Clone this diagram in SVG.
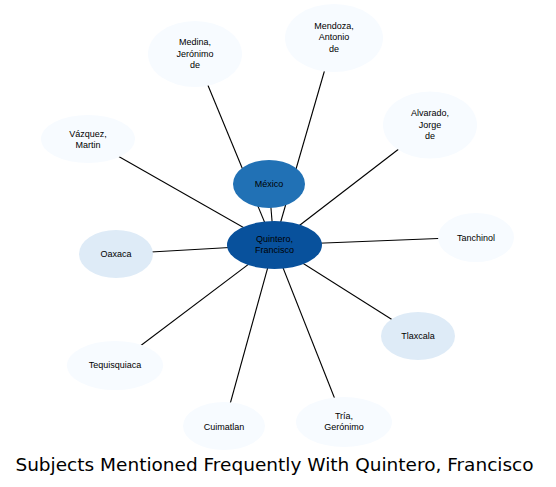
<svg xmlns="http://www.w3.org/2000/svg" width="556" height="487" viewBox="0 0 556 487">
<style>
.e line{stroke:#000;stroke-width:1.1}
.n text{font-family:"Liberation Sans",Arial,sans-serif;font-size:9px;text-anchor:middle;fill:#000}
.l1{fill:#f7fbff}
.l2{fill:#deebf7}
.d1{fill:#2171b5}
.d2{fill:#08519c}
.t{font-family:"DejaVu Sans",sans-serif;font-size:18.5px;text-anchor:middle;fill:#000}
</style>
<rect width="556" height="487" fill="#fff"/>
<g id="edges" class="e">
<line x1="274" y1="245" x2="269" y2="184"/>
<line x1="274" y1="245" x2="195" y2="54"/>
<line x1="274" y1="245" x2="334" y2="38"/>
<line x1="274" y1="245" x2="430" y2="125"/>
<line x1="274" y1="245" x2="476" y2="237"/>
<line x1="274" y1="245" x2="88" y2="139"/>
<line x1="274" y1="245" x2="116" y2="254"/>
<line x1="274" y1="245" x2="115" y2="365"/>
<line x1="274" y1="245" x2="224" y2="426"/>
<line x1="274" y1="245" x2="418" y2="336"/>
<line x1="274" y1="245" x2="344" y2="422"/>
</g>
<g id="medina" class="n"><ellipse class="l1" cx="195" cy="54" rx="47" ry="33"/><text x="195" y="45">Medina,</text><text x="195" y="56.5">Jerónimo</text><text x="195" y="68">de</text></g>
<g id="mendoza" class="n"><ellipse class="l1" cx="334" cy="38" rx="49" ry="34"/><text x="334" y="28.5">Mendoza,</text><text x="334" y="40">Antonio</text><text x="334" y="51.5">de</text></g>
<g id="alvarado" class="n"><ellipse class="l1" cx="430" cy="125" rx="47" ry="33.5"/><text x="430" y="115.5">Alvarado,</text><text x="430" y="127.5">Jorge</text><text x="430" y="139">de</text></g>
<g id="tanchinol" class="n"><ellipse class="l1" cx="476" cy="237.5" rx="38" ry="24.5"/><text x="476" y="240.5">Tanchinol</text></g>
<g id="vazquez" class="n"><ellipse class="l1" cx="88" cy="139" rx="47" ry="24"/><text x="88" y="137">Vázquez,</text><text x="88" y="148">Martin</text></g>
<g id="oaxaca" class="n"><ellipse class="l2" cx="116" cy="254" rx="37" ry="24"/><text x="116" y="256.5">Oaxaca</text></g>
<g id="tequisquiaca" class="n"><ellipse class="l1" cx="115" cy="365.5" rx="48" ry="24.5"/><text x="115" y="367.5">Tequisquiaca</text></g>
<g id="cuimatlan" class="n"><ellipse class="l1" cx="224" cy="426" rx="41" ry="24"/><text x="224" y="429.5">Cuimatlan</text></g>
<g id="tlaxcala" class="n"><ellipse class="l2" cx="418" cy="336" rx="37" ry="24"/><text x="418" y="338.5">Tlaxcala</text></g>
<g id="tria" class="n"><ellipse class="l1" cx="344" cy="422" rx="48" ry="25"/><text x="344" y="418.5">Tría,</text><text x="344" y="430">Gerónimo</text></g>
<g id="mexico" class="n"><ellipse class="d1" cx="269" cy="184" rx="36" ry="24"/><text x="269" y="186.5">México</text></g>
<g id="quintero" class="n"><ellipse class="d2" cx="274.5" cy="245" rx="47.5" ry="24"/><text x="274.5" y="241.5">Quintero,</text><text x="274.5" y="252.5">Francisco</text></g>
<text class="t" x="274.5" y="471">Subjects Mentioned Frequently With Quintero, Francisco</text>
</svg>
